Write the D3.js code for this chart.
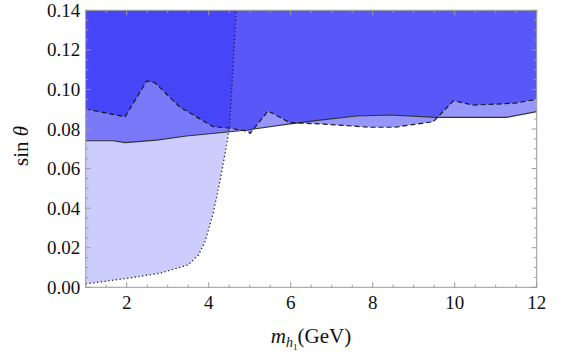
<!DOCTYPE html>
<html>
<head>
<meta charset="utf-8">
<script src="https://cdn.jsdelivr.net/npm/d3@7"></script>
<style>
  html, body { margin: 0; padding: 0; background: #fff; }
  svg { display: block; }
</style>
</head>
<body>
<div id="chart"></div>
<script>
// boundary curves (m_h1 in GeV, sin theta)
const dashedX = [1.0, 1.96, 2.49, 2.69, 3.30, 4.11, 4.52, 4.93, 5.01, 5.45, 5.98, 6.80, 7.93, 8.54, 9.48, 9.97, 10.45, 11.43, 12.0];
const dashedY = [0.0901, 0.0862, 0.1043, 0.1034, 0.0910, 0.0812, 0.0804, 0.0790, 0.0778, 0.0891, 0.0832, 0.0825, 0.0809, 0.0809, 0.0837, 0.0943, 0.0921, 0.0930, 0.0950];

const solidX = [1.0, 1.67, 1.96, 2.73, 3.46, 4.52, 4.93, 5.98, 6.71, 7.61, 8.42, 9.56, 11.27, 12.0];
const solidY = [0.0741, 0.0741, 0.0731, 0.0744, 0.0765, 0.0786, 0.0795, 0.0826, 0.0845, 0.0866, 0.0871, 0.0859, 0.0859, 0.0888];

const dottedX = [1.0, 2.0, 2.81, 3.50, 3.75, 3.91, 4.11, 4.28, 4.46, 4.52, 4.67];
const dottedY = [0.0017, 0.0045, 0.0071, 0.0113, 0.0163, 0.0230, 0.0374, 0.0542, 0.0745, 0.0846, 0.14];

const xTicks = [2, 4, 6, 8, 10, 12];
const yTicks = [0.00, 0.02, 0.04, 0.06, 0.08, 0.10, 0.12, 0.14];

const width = 563, height = 361;
const margin = {left: 85.7, right: 26.3, top: 10.3, bottom: 73.7};
const xMin = 1, xMax = 12, yMin = 0, yMax = 0.14;
const serif = '"Liberation Serif", "Times New Roman", Tinos, "DejaVu Serif", serif';

const x = d3.scaleLinear().domain([xMin, xMax]).range([margin.left, width - margin.right]);
const y = d3.scaleLinear().domain([yMin, yMax]).range([height - margin.bottom, margin.top]);

const zip = (xs, ys) => xs.map((v, i) => [v, ys[i]]);
const dashed = zip(dashedX, dashedY);
const solid = zip(solidX, solidY);
const dotted = zip(dottedX, dottedY);

const svg = d3.select('#chart').append('svg')
    .attr('width', width)
    .attr('height', height)
    .style('font-family', serif);

svg.append('defs').append('clipPath').attr('id', 'plot-clip')
    .append('rect')
    .attr('x', x(xMin)).attr('y', y(yMax))
    .attr('width', x(xMax) - x(xMin))
    .attr('height', y(yMin) - y(yMax));

const plot = svg.append('g').attr('clip-path', 'url(#plot-clip)');

const fillBlue = 'rgb(0,0,246)';

// regions above the dashed and solid curves
const above = d3.area()
    .x(d => x(d[0]))
    .y0(y(yMax))
    .y1(d => y(d[1]));

plot.append('path').datum(dashed)
    .attr('d', above)
    .attr('fill', fillBlue)
    .attr('fill-opacity', 0.41);

plot.append('path').datum(solid)
    .attr('d', above)
    .attr('fill', fillBlue)
    .attr('fill-opacity', 0.41);

// region left of the dotted curve
const poly = d3.line().x(d => x(d[0])).y(d => y(d[1]));
plot.append('path')
    .datum([[xMin, yMax], ...dotted])
    .attr('d', d => poly(d) + 'Z')
    .attr('fill', fillBlue)
    .attr('fill-opacity', 0.2);

// boundary lines
plot.append('path').datum(solid)
    .attr('d', poly)
    .attr('fill', 'none')
    .attr('stroke', '#333')
    .attr('stroke-width', 1.1);

plot.append('path').datum(dashed)
    .attr('d', poly)
    .attr('fill', 'none')
    .attr('stroke', '#1a1a1a')
    .attr('stroke-width', 1.2)
    .attr('stroke-dasharray', '5,3');

plot.append('path').datum(dotted)
    .attr('d', poly)
    .attr('fill', 'none')
    .attr('stroke', '#222')
    .attr('stroke-width', 1.3)
    .attr('stroke-dasharray', '1.2,2.6');

// frame and inward ticks, mirrored on all sides
const frameColor = '#9a9a9a';
const axes = svg.append('g');

const minorX = d3.range(xMin, xMax + 0.001, 0.5);
const minorY = d3.range(yMin, yMax + 0.0001, 0.005);

const tickLen = v => (v ? 5 : 2.6);
const isMajorX = v => xTicks.some(t => Math.abs(t - v) < 1e-6);
const isMajorY = v => yTicks.some(t => Math.abs(t - v) < 1e-6);

minorX.forEach(v => {
    const len = tickLen(isMajorX(v));
    axes.append('line')
        .attr('x1', x(v)).attr('x2', x(v))
        .attr('y1', y(yMin)).attr('y2', y(yMin) - len)
        .attr('stroke', frameColor);
    axes.append('line')
        .attr('x1', x(v)).attr('x2', x(v))
        .attr('y1', y(yMax)).attr('y2', y(yMax) + len)
        .attr('stroke', frameColor);
});

minorY.forEach(v => {
    const len = tickLen(isMajorY(v));
    axes.append('line')
        .attr('x1', x(xMin)).attr('x2', x(xMin) + len)
        .attr('y1', y(v)).attr('y2', y(v))
        .attr('stroke', frameColor);
    axes.append('line')
        .attr('x1', x(xMax)).attr('x2', x(xMax) - len)
        .attr('y1', y(v)).attr('y2', y(v))
        .attr('stroke', frameColor);
});

axes.append('rect')
    .attr('x', x(xMin)).attr('y', y(yMax))
    .attr('width', x(xMax) - x(xMin))
    .attr('height', y(yMin) - y(yMax))
    .attr('fill', 'none')
    .attr('stroke', frameColor)
    .attr('stroke-width', 1);

// tick labels
axes.selectAll('.xlab')
    .data(xTicks)
    .enter().append('text')
    .attr('x', d => x(d))
    .attr('y', y(yMin) + 21.5)
    .attr('text-anchor', 'middle')
    .attr('font-family', serif)
    .attr('font-size', 19)
    .attr('fill', '#111')
    .text(d => d);

axes.selectAll('.ylab')
    .data(yTicks)
    .enter().append('text')
    .attr('x', x(xMin) - 5.5)
    .attr('y', d => y(d) + 6.5)
    .attr('text-anchor', 'end')
    .attr('font-family', serif)
    .attr('font-size', 19)
    .attr('fill', '#111')
    .text(d => d.toFixed(2));

// axis titles
const xTitle = svg.append('text')
    .attr('x', 311)
    .attr('y', 343)
    .attr('text-anchor', 'middle')
    .attr('font-family', serif)
    .attr('font-size', 21)
    .attr('fill', '#111');
xTitle.append('tspan').attr('font-style', 'italic').text('m');
xTitle.append('tspan').attr('font-style', 'italic').attr('font-size', 14).attr('dy', 4).text('h');
xTitle.append('tspan').attr('font-size', 9).attr('dy', 3).text('1');
xTitle.append('tspan').attr('dy', -7).text('(GeV)');

const yTitle = svg.append('text')
    .attr('transform', 'translate(28,146) rotate(-90)')
    .attr('text-anchor', 'middle')
    .attr('font-family', serif)
    .attr('font-size', 21)
    .attr('fill', '#111');
yTitle.append('tspan').text('sin ');
yTitle.append('tspan').attr('font-style', 'italic').text('θ');
</script>
</body>
</html>
